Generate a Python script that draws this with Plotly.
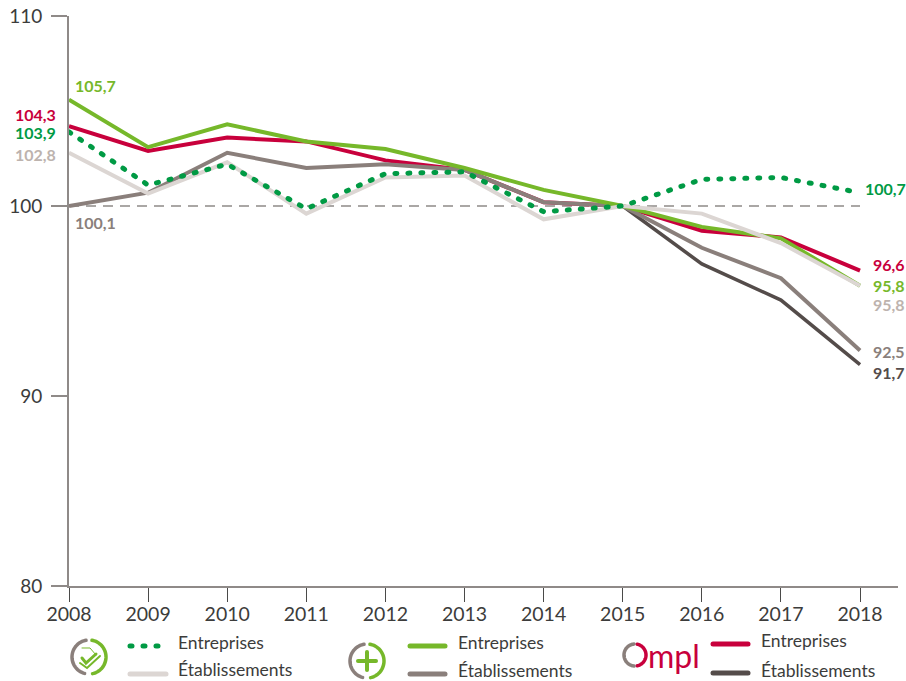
import math
import plotly.graph_objects as go

years = [2008, 2009, 2010, 2011, 2012, 2013, 2014, 2015, 2016, 2017, 2018]
repos_entreprises = [103.9, 101.1, 102.2, 99.85, 101.7, 101.8, 99.7, 100, 101.4, 101.5, 100.7]
repos_etablissements = [102.8, 100.65, 102.3, 99.6, 101.5, 101.6, 99.3, 100, 99.6, 98.05, 95.8]
plus_entreprises = [105.6, 103.1, 104.3, 103.4, 103.0, 102.0, 100.85, 100, 98.9, 98.3, 95.8]
plus_etablissements = [100, 100.7, 102.8, 102.0, 102.2, 101.9, 100.2, 100, 97.8, 96.2, 92.4]
ompl_entreprises = [104.2, 102.9, 103.6, 103.4, 102.4, 101.9, 100.2, 100, 98.7, 98.35, 96.6]
ompl_etablissements = [None, None, None, None, None, None, None, 100, 96.95, 95.05, 91.65]
reference_line = [100] * len(years)
y_ticks = [80, 90, 100, 110]

GREEN = "#009a44"
LIGHT = "#dcd6d3"
LIME = "#76b82a"
BROWN = "#8a7f7b"
RED = "#c8003c"
DARK = "#544c4a"
TEXT = "#3c3c3b"
FONT = "Lato"

W, H = 906, 681
L, R, T, B = 69, 8, 16, 95


def px(x):
    return (x - L) / (W - L - R)


def py(y):
    return 1 - (y - T) / (H - T - B)


fig = go.Figure()
fig.add_trace(go.Scatter(x=years, y=reference_line, mode="lines", showlegend=False, hoverinfo="skip",
                         line=dict(color="#8f8a88", width=1.5, dash="10px,7px")))
for vals, col, w in [
    (ompl_etablissements, DARK, 3.5),
    (ompl_entreprises, RED, 4),
    (plus_etablissements, BROWN, 4),
    (plus_entreprises, LIME, 4),
    (repos_etablissements, LIGHT, 4),
]:
    fig.add_trace(go.Scatter(x=years, y=vals, mode="lines", showlegend=False, line=dict(color=col, width=w)))
fig.add_trace(go.Scatter(x=years, y=repos_entreprises, mode="lines", showlegend=False,
                         line=dict(color=GREEN, width=5, dash="2px,11px")))

annotations = []


def text(s, x, y, color=TEXT, size=15, anchor="left", weight=400, family=FONT):
    annotations.append(dict(text=s, x=px(x), y=py(y), xref="paper", yref="paper", showarrow=False,
                            xanchor=anchor, yanchor="middle", borderpad=0, borderwidth=0,
                            font=dict(color=color, size=size, family=family, weight=weight)))


for s, x, y, c, a in [
    ("105,7", 75, 86, LIME, "left"),
    ("104,3", 56, 115, RED, "right"),
    ("103,9", 56, 132, GREEN, "right"),
    ("102,8", 56, 154, "#bdb3ae", "right"),
    ("100,1", 75, 222, BROWN, "left"),
    ("100,7", 865, 188, GREEN, "left"),
    ("96,6", 873, 264, RED, "left"),
    ("95,8", 873, 285, LIME, "left"),
    ("95,8", 873, 304, "#bdb3ae", "left"),
    ("92,5", 873, 351, BROWN, "left"),
    ("91,7", 873, 373, DARK, "left"),
]:
    text(s, x, y, c, 16, a, 700)

shapes = []


def seg(x0, x1, y, color, dash=None, width=5):
    shapes.append(dict(type="line", xref="paper", yref="paper", x0=px(x0), x1=px(x1), y0=py(y), y1=py(y),
                       line=dict(color=color, width=width, dash=dash)))


def poly(points, color, width):
    d = "M" + " L".join(f"{px(a):.5f},{py(b):.5f}" for a, b in points)
    shapes.append(dict(type="path", xref="paper", yref="paper", path=d, line=dict(color=color, width=width)))


def arc(cx, cy, r, a0, a1, color, width=3.5):
    n = 40
    pts = []
    for i in range(n + 1):
        a = math.radians(a0 + (a1 - a0) * i / n)
        pts.append((cx + r * math.cos(a), cy - r * math.sin(a)))
    poly(pts, color, width)


# legend samples and texts
seg(130, 166, 646, GREEN, "2px,11px")
seg(130, 166, 674, LIGHT)
text("Entreprises", 178, 642, TEXT, 17.5)
text("Établissements", 178, 669, TEXT, 17.5)
seg(410, 445, 646, LIME)
seg(410, 445, 674, BROWN)
text("Entreprises", 458, 642, TEXT, 17.5)
text("Établissements", 458, 670, TEXT, 17.5)
seg(713, 748, 644, RED)
seg(713, 748, 673, DARK)
text("Entreprises", 761, 640, TEXT, 17.5)
text("Établissements", 761, 670, TEXT, 17.5)

# icon 1
arc(89, 657, 17, 100, 255, BROWN)
arc(89, 657, 17, 80, -78, LIME)
poly([(82, 648), (90, 648), (96, 655)], LIME, 1)
poly([(80, 663), (87, 668), (100, 656)], LIME, 2)
poly([(82, 658), (86, 663), (96, 654)], LIME, 3)
# icon 2
arc(367, 661, 17, 100, 255, BROWN)
arc(367, 661, 17, 80, -78, LIME)
poly([(358, 661), (376, 661)], LIME, 4)
poly([(367, 652), (367, 670)], LIME, 4)
# Ompl logo
arc(635, 655, 11, 95, 265, BROWN, 3.5)
arc(635, 655, 11, 78, -78, RED, 3.5)
text("mpl", 648, 655, RED, 32, "left", 400, FONT)

fig.update_layout(
    width=W, height=H, autosize=False,
    margin=dict(l=L, r=R, t=T, b=B, pad=0),
    paper_bgcolor="white", plot_bgcolor="white",
    font=dict(family=FONT, color=TEXT),
    showlegend=False,
    annotations=annotations, shapes=shapes,
    xaxis=dict(range=[2008, 2018.48], tickmode="array", tickvals=years, ticktext=[str(y) for y in years],
               ticks="outside", ticklen=14, tickwidth=1, tickcolor="#4a4a49", showgrid=False, zeroline=False,
               showline=True, linecolor="#8f8a88", linewidth=2, tickfont=dict(size=19.5, color=TEXT, family=FONT),
               ticklabelstandoff=-4, automargin=False),
    yaxis=dict(range=[80, 110], tickmode="array", tickvals=y_ticks, ticks="outside", ticklen=16, tickwidth=1.5,
               tickcolor="#8f8a88", showgrid=False, zeroline=False, showline=True, linecolor="#8f8a88",
               linewidth=2, tickfont=dict(size=19, color=TEXT, family=FONT), ticklabelstandoff=5,
               automargin=False),
)

post = """
document.documentElement.style.margin='0';
document.body.style.margin='0';
document.body.style.overflow='hidden';
var s=document.createElement('style');
s.textContent='.scatterlayer .trace:last-child .js-line{stroke-linecap:round} .shapelayer path{stroke-linecap:round}';
document.head.appendChild(s);
"""
fig.write_html("out.html", post_script=post, config={"displayModeBar": False})
